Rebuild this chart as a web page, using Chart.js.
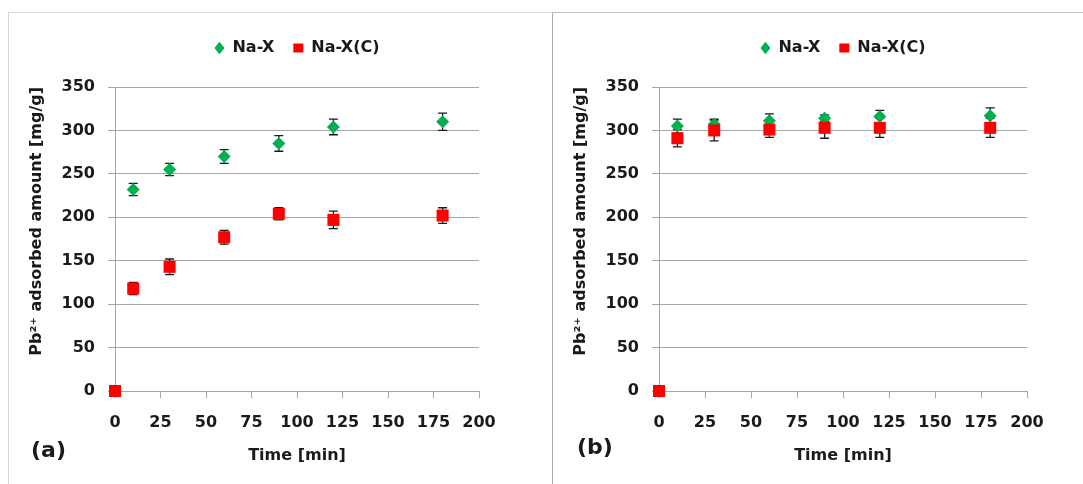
<!DOCTYPE html>
<html lang="en">
<head>
<meta charset="utf-8">
<title>Pb2+ adsorbed amount vs time</title>
<script src="https://cdn.jsdelivr.net/npm/chart.js@4.4.1/dist/chart.umd.min.js"></script>
<style>
  html, body { margin: 0; padding: 0; background: #fff; }
  body { position: relative; width: 1083px; height: 484px; overflow: hidden; }
  .marco { position: absolute; top: 12px; height: 472px; box-sizing: border-box; }
  #marcoA { left: 8px; width: 544px; border-left: 1px solid #d6d6d6; border-top: 1px solid #dcdcdc; }
  #marcoB { left: 552px; width: 531px; border-left: 1px solid #a9a9a9; border-top: 1px solid #c2c2c2; }
  canvas { position: absolute; top: 12px; }
  #graficoA { left: 8px; }
  #graficoB { left: 552px; }
  .etiqueta { position: absolute; font: bold 22px "DejaVu Sans", sans-serif; line-height: 26px; color: #1a1a1a; }
</style>
</head>
<body>
<div class="marco" id="marcoA"></div>
<div class="marco" id="marcoB"></div>
<canvas id="graficoA" width="544" height="472"></canvas>
<canvas id="graficoB" width="531" height="472"></canvas>
<div class="etiqueta" style="left:31px; top:437px;">(a)</div>
<div class="etiqueta" style="left:577px; top:434px;">(b)</div>

<script>
// ⏱️ Tiempos de muestreo [min]
const tiempos = [0, 10, 30, 60, 90, 120, 180];

// 📊 Panel (a)
const naX_a = [0, 232, 255, 270, 285, 304, 310];
const naX_a_err = [0, 7, 7, 8, 9, 9, 10];
const naXC_a = [0, 118, 143, 177, 204, 197, 202];
const naXC_a_err = [0, 7, 9, 8, 7, 10, 9];

// 📊 Panel (b)
const naX_b = [0, 305, 307, 311, 314, 316, 317];
const naX_b_err = [0, 8, 6, 8, 4, 7, 9];
const naXC_b = [0, 291, 300, 301, 303, 303, 303];
const naXC_b_err = [0, 10, 12, 9, 12, 11, 11];

// Ejes
const ticksX = { min: 0, max: 200, paso: 25 };
const ticksY = { min: 0, max: 350, paso: 50 };
const series = ["Na-X", "Na-X(C)"];
const tituloX = "Time [min]";
const tituloY = "Pb²⁺ adsorbed amount [mg/g]";

const TEXTO = "#1a1a1a";
const REJILLA = "#a6a6a6";
const FUENTE = { family: "'DejaVu Sans', sans-serif", size: 16, weight: "bold" };

// 🔧 Barras de error dibujadas con las escalas del gráfico
const barrasError = {
  id: "barrasError",
  beforeDatasetsDraw(chart) {
    const { ctx, scales } = chart;
    ctx.save();
    ctx.strokeStyle = TEXTO;
    ctx.lineWidth = 1.3;
    chart.data.datasets.forEach((ds) => {
      ds.data.forEach((p) => {
        if (!p.err) return;
        const px = scales.x.getPixelForValue(p.x);
        const arriba = scales.y.getPixelForValue(p.y + p.err);
        const abajo = scales.y.getPixelForValue(p.y - p.err);
        ctx.beginPath();
        ctx.moveTo(px, arriba);
        ctx.lineTo(px, abajo);
        ctx.moveTo(px - 4.5, arriba);
        ctx.lineTo(px + 4.5, arriba);
        ctx.moveTo(px - 4.5, abajo);
        ctx.lineTo(px + 4.5, abajo);
        ctx.stroke();
      });
    });
    ctx.restore();
  },
};

// 🔧 Espacio extra bajo la leyenda
const margenLeyenda = {
  id: "margenLeyenda",
  beforeInit(chart) {
    const fitOriginal = chart.legend.fit;
    chart.legend.fit = function () {
      fitOriginal.bind(chart.legend)();
      this.height += 21;
    };
  },
};

function puntos(valores, errores) {
  return tiempos.map((t, i) => ({ x: t, y: valores[i], err: errores[i] }));
}

function crearGrafico(id, naX, naXErr, naXC, naXCErr, margenDerecho) {
  return new Chart(document.getElementById(id), {
    type: "scatter",
    data: {
      datasets: [
        {
          label: series[0],
          data: puntos(naX, naXErr),
          order: 1,
          pointStyle: "rectRot",
          pointRadius: 6.5,
          pointBorderWidth: 0,
          backgroundColor: "#00b050",
          borderColor: "#00b050",
          clip: false,
        },
        {
          // los cuadrados rojos van encima de los rombos
          label: series[1],
          data: puntos(naXC, naXCErr),
          order: 0,
          pointStyle: "rect",
          pointRadius: 8.5,
          pointBorderWidth: 0,
          backgroundColor: "#ff0000",
          borderColor: "#ff0000",
          clip: false,
        },
      ],
    },
    options: {
      responsive: false,
      animation: false,
      devicePixelRatio: 1,
      layout: { padding: { top: 9, left: 0, right: margenDerecho, bottom: 0 } },
      plugins: {
        tooltip: { enabled: false },
        legend: {
          position: "top",
          fullSize: false,
          labels: {
            usePointStyle: true,
            pointStyleWidth: 10,
            boxHeight: 9,
            padding: 19,
            color: TEXTO,
            font: FUENTE,
            // leyenda en el orden de las series, no en el de dibujo
            sort: (a, b) => a.datasetIndex - b.datasetIndex,
          },
        },
      },
      scales: {
        x: {
          type: "linear",
          min: ticksX.min,
          max: ticksX.max,
          afterFit: (escala) => { escala.height = 93; },
          ticks: { stepSize: ticksX.paso, padding: 15, color: TEXTO, font: FUENTE },
          grid: { drawOnChartArea: false, tickLength: 7, color: REJILLA },
          border: { color: REJILLA, width: 1 },
          title: {
            display: true,
            text: tituloX,
            color: TEXTO,
            font: FUENTE,
            padding: { top: 0, bottom: 19 },
          },
        },
        y: {
          min: ticksY.min,
          max: ticksY.max,
          afterFit: (escala) => { escala.width = 107; },
          ticks: { stepSize: ticksY.paso, padding: 13, color: TEXTO, font: FUENTE },
          grid: { tickLength: 7, color: REJILLA },
          border: { color: REJILLA, width: 1 },
          title: {
            display: true,
            text: tituloY,
            align: "end",
            color: TEXTO,
            font: FUENTE,
            padding: { top: 19, bottom: 0 },
          },
        },
      },
    },
    plugins: [barrasError, margenLeyenda],
  });
}

document.addEventListener("DOMContentLoaded", function () {
  crearGrafico("graficoA", naX_a, naX_a_err, naXC_a, naXC_a_err, 73);
  crearGrafico("graficoB", naX_b, naX_b_err, naXC_b, naXC_b_err, 56);
});
</script>
</body>
</html>
